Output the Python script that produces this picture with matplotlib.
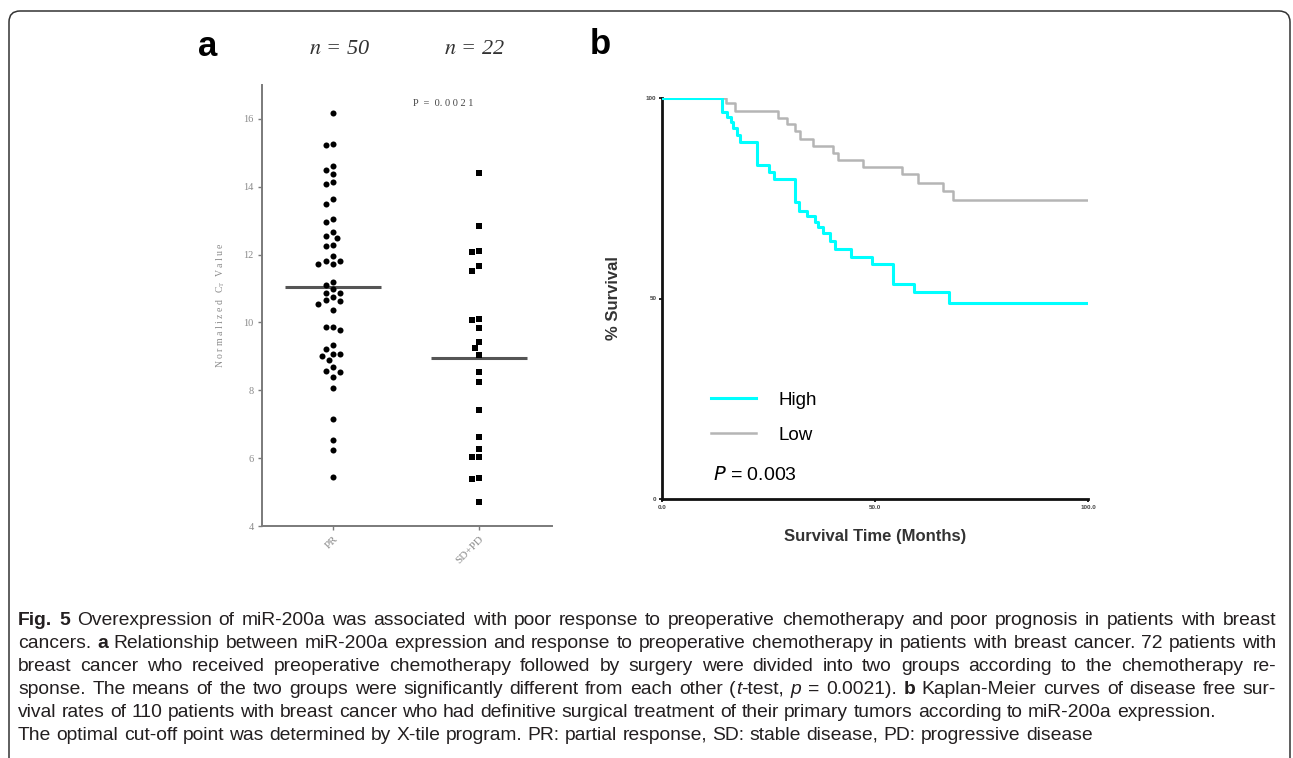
import numpy as np
import matplotlib
matplotlib.use('Agg')
import matplotlib.pyplot as plt
from matplotlib import font_manager
from matplotlib.patches import FancyBboxPatch
from matplotlib.transforms import IdentityTransform

#%% Data
groups = ['PR', 'SD+PD']
group_n = ['$n$ = 50', '$n$ = 22']
pr_values = [16.18, 15.23, 15.25, 14.61, 14.49, 14.38, 14.15, 14.08, 13.65, 13.48,
             13.05, 12.97, 12.66, 12.48, 12.56, 12.27, 12.24, 11.96, 11.82, 11.72,
             11.72, 11.82, 11.10, 11.20, 10.99, 10.86, 10.86, 10.74, 10.65, 10.54,
             10.62, 10.37, 9.86, 9.78, 9.88, 9.33, 9.21, 9.07, 9.07, 9.01,
             8.89, 8.70, 8.54, 8.58, 8.38, 8.06, 7.15, 6.54, 6.24, 5.45]
sdpd_values = [14.40, 12.84, 12.08, 12.12, 11.66, 11.53, 10.07, 10.09, 9.84, 9.42,
               9.24, 9.04, 8.53, 8.24, 7.42, 6.63, 6.26, 6.02, 6.04, 5.41, 5.38, 4.72]
a_yticks = [4, 6, 8, 10, 12, 14, 16]

# Kaplan-Meier steps: time (months) and survival (%) after each drop
high_t = [0, 14.2, 15.3, 16.1, 16.7, 17.6, 18.4, 22.3, 25.0, 26.3, 31.2, 32.2, 34.0,
          35.9, 36.7, 37.9, 39.4, 40.6, 44.3, 49.3, 54.2, 59.2, 67.3, 100]
high_s = [100, 96.6, 95.2, 93.9, 92.4, 90.8, 89.1, 83.4, 81.6, 79.7, 74.0, 71.9, 70.6,
          69.2, 67.9, 66.3, 64.4, 62.3, 60.3, 58.5, 53.6, 51.5, 48.9, 48.9]
low_t = [0, 15.0, 17.1, 27.3, 29.3, 31.2, 32.4, 35.5, 40.1, 41.4, 47.3, 56.3, 60.2,
         66.0, 68.4, 100]
low_s = [100, 98.7, 96.8, 95.1, 93.4, 91.8, 89.9, 88.0, 86.2, 84.5, 82.9, 81.0, 78.9,
         76.8, 74.6, 74.6]
b_xticks = [0, 50, 100]
b_xticklabels = ['0.0', '50.0', '100.0']
b_yticks = [0, 50, 100]

caption = [
    [('Fig. 5', 'b'), (' Overexpression of miR-200a was associated with poor response to preoperative chemotherapy and poor prognosis in patients with breast', 'n')],
    [('cancers. ', 'n'), ('a', 'b'), (' Relationship between miR-200a expression and response to preoperative chemotherapy in patients with breast cancer. 72 patients with', 'n')],
    [('breast cancer who received preoperative chemotherapy followed by surgery were divided into two groups according to the chemotherapy re-', 'n')],
    [('sponse. The means of the two groups were significantly different from each other (', 'n'), ('t', 'i'), ('-test, ', 'n'), ('p', 'i'),
     (' = 0.0021). ', 'n'), ('b', 'b'), (' Kaplan-Meier curves of disease free sur-', 'n')],
    [('vival rates of 110 patients with breast cancer who had definitive surgical treatment of their primary tumors according to miR-200a expression.', 'n')],
    [('The optimal cut-off point was determined by X-tile program. PR: partial response, SD: stable disease, PD: progressive disease', 'n')],
]
caption_justify = [True, True, True, True, False, False]

#%% Figure
W, H = 1293, 758
fig = plt.figure(figsize=(W / 100, H / 100), dpi=100)
fig.patch.set_facecolor('white')

frame = FancyBboxPatch((9, -30), 1281, H - 11 + 30,
                       boxstyle='round,pad=0,rounding_size=11',
                       transform=IdentityTransform(), fill=False,
                       lw=1.1, ec='#333333')
fig.add_artist(frame)

SERIF = 'Liberation Serif'
SANS = 'Liberation Sans'
GREY = '#8a8a8a'

#%% Panel a: scatter
ax = fig.add_axes([262 / W, 1 - 526 / H, 290 / W, 441 / H])
ax.set_xlim(-0.486, 1.5)
ax.set_ylim(4, 17)
for side in ['top', 'right']:
    ax.spines[side].set_visible(False)
for side in ['left', 'bottom']:
    ax.spines[side].set_color('#7a7a7a')
    ax.spines[side].set_linewidth(1.4)
ax.set_yticks(a_yticks)
ax.set_yticklabels([str(v) for v in a_yticks], fontsize=7.5, family=SERIF, color=GREY)
ax.set_xticks([0, 1])
ax.set_xticklabels(groups, rotation=45, ha='right', rotation_mode='anchor',
                   fontsize=8, family=SERIF, color=GREY)
ax.tick_params(axis='both', length=3, width=1, color='#7a7a7a', pad=3)
ax.set_ylabel('N o r m a l i z e d   C$_\\mathregular{T}$  V a l u e', fontsize=7,
              family=SERIF, color=GREY, labelpad=12)


def swarm(ax, x0, values, d=7.4):
    # simple beeswarm in pixel space, returns x positions in data units
    pts = ax.transData.transform([(x0, v) for v in values])
    ys = pts[:, 1]
    px_per_unit = ax.transData.transform((1, 0))[0] - ax.transData.transform((0, 0))[0]
    cands = [0.0]
    for k in range(1, 30):
        cands += [-k * d / 2, k * d / 2]
    placed = []
    offs = np.zeros(len(values))
    for i in np.argsort(-ys):
        for c in cands:
            if all((c - px) ** 2 + (ys[i] - py) ** 2 >= (0.93 * d) ** 2 for px, py in placed):
                offs[i] = c
                placed.append((c, ys[i]))
                break
    return x0 + offs / px_per_unit


ax.scatter(swarm(ax, 0, pr_values), pr_values, s=19, marker='o', color='black',
           linewidths=0, zorder=3)
ax.scatter(swarm(ax, 1, sdpd_values), sdpd_values, s=16, marker='s', color='black',
           linewidths=0, zorder=3)
for xc, vals in [(0, pr_values), (1, sdpd_values)]:
    ax.plot([xc - 0.33, xc + 0.33], [np.mean(vals)] * 2, color='#555555', lw=2.2,
            solid_capstyle='butt', zorder=2)

fig.text(340 / W, 1 - 50 / H, group_n[0], fontsize=16, family=SERIF, style='italic',
         color='#333333', ha='center', va='center', math_fontfamily='stix')
fig.text(475 / W, 1 - 50 / H, group_n[1], fontsize=16, family=SERIF, style='italic',
         color='#333333', ha='center', va='center', math_fontfamily='stix')
fig.text(443 / W, 1 - 103 / H, 'P  =  0. 0 0 2 1', fontsize=7.5, family=SERIF,
         color='#444444', ha='center', va='center')
fig.text(208 / W, 1 - 47 / H, 'a', fontsize=25, family=SANS, weight='bold',
         ha='center', va='center')
fig.text(600 / W, 1 - 44 / H, 'b', fontsize=25, family=SANS, weight='bold',
         ha='center', va='center')

#%% Panel b: Kaplan-Meier
bx = fig.add_axes([662 / W, 1 - 499 / H, 426 / W, 401 / H])
bx.step(low_t, low_s, where='post', color='#b5b5b5', lw=1.8, label='Low', zorder=2)
bx.step(high_t, high_s, where='post', color='#00ffff', lw=2.2, label='High', zorder=3)
bx.set_xlim(0, 100)
bx.set_ylim(0, 100)
for side in ['top', 'right']:
    bx.spines[side].set_visible(False)
for side in ['left', 'bottom']:
    bx.spines[side].set_linewidth(2)
    bx.spines[side].set_color('#111111')
bx.set_xticks(b_xticks)
bx.set_xticklabels(b_xticklabels, fontsize=4.5, weight='bold', family=SANS, color='#444444')
bx.set_yticks(b_yticks)
bx.set_yticklabels([str(v) for v in b_yticks], fontsize=4.5, weight='bold', family=SANS,
                   color='#444444')
bx.tick_params(axis='both', length=2.5, width=1.2, pad=1.5)
bx.set_xlabel('Survival Time (Months)', fontsize=12, weight='bold', family=SANS,
              color='#333333', labelpad=14)
bx.set_ylabel('% Survival', fontsize=12, weight='bold', family=SANS,
              color='#333333', labelpad=18)
bx.legend(handles=[bx.lines[1], bx.lines[0]], loc='upper left',
          bbox_to_anchor=(0.075, 0.31), frameon=False,
          prop={'family': SANS, 'size': 13.5}, handlelength=2.4, handletextpad=1.2,
          labelspacing=0.95)
bx.text(0.12, 0.047, '$P$ = 0.003', transform=bx.transAxes, fontsize=14, family=SANS,
        math_fontfamily='dejavusans', va='baseline')

#%% Caption
names = {f.name for f in font_manager.fontManager.ttflist}
cap_family = 'Liberation Sans Narrow' if 'Liberation Sans Narrow' in names else SANS
renderer = fig.canvas.get_renderer()
STY = {'n': {}, 'b': {'weight': 'bold'}, 'i': {'style': 'italic'}}


def split_words(segs):
    words = []
    new_word = True
    for txt, st in segs:
        pieces = txt.split(' ')
        for j, p in enumerate(pieces):
            if j > 0:
                new_word = True
            if p == '':
                continue
            if new_word or not words:
                words.append([(p, st)])
            else:
                words[-1].append((p, st))
            new_word = False
    return words


def measure(s, st, size):
    t = fig.text(0, 0, s, fontsize=size, family=cap_family, **STY[st])
    w = t.get_window_extent(renderer=renderer).width
    t.remove()
    return w


def line_width(segs, size):
    words = split_words(segs)
    sp = measure('a a', 'n', size) - measure('aa', 'n', size)
    return sum(measure(p, st, size) for w in words for p, st in w) + sp * (len(words) - 1)


x_left, x_right = 18, 1276
cap_size = 10 * 1235 / line_width(caption[0], 10)
space = measure('a a', 'n', cap_size) - measure('aa', 'n', cap_size)
baselines = [625, 648, 671, 694, 717, 740]
for segs, just, yb in zip(caption, caption_justify, baselines):
    words = split_words(segs)
    widths = [[measure(p, st, cap_size) for p, st in w] for w in words]
    total = sum(sum(w) for w in widths)
    gap = (x_right - x_left - total) / (len(words) - 1) if just else space
    x = x_left
    for w, ws in zip(words, widths):
        for (p, st), pw in zip(w, ws):
            fig.text(x / W, 1 - yb / H, p, fontsize=cap_size, family=cap_family,
                     color='#231f20', va='baseline', ha='left', **STY[st])
            x += pw
        x += gap

fig.savefig('out.png', dpi=100)
